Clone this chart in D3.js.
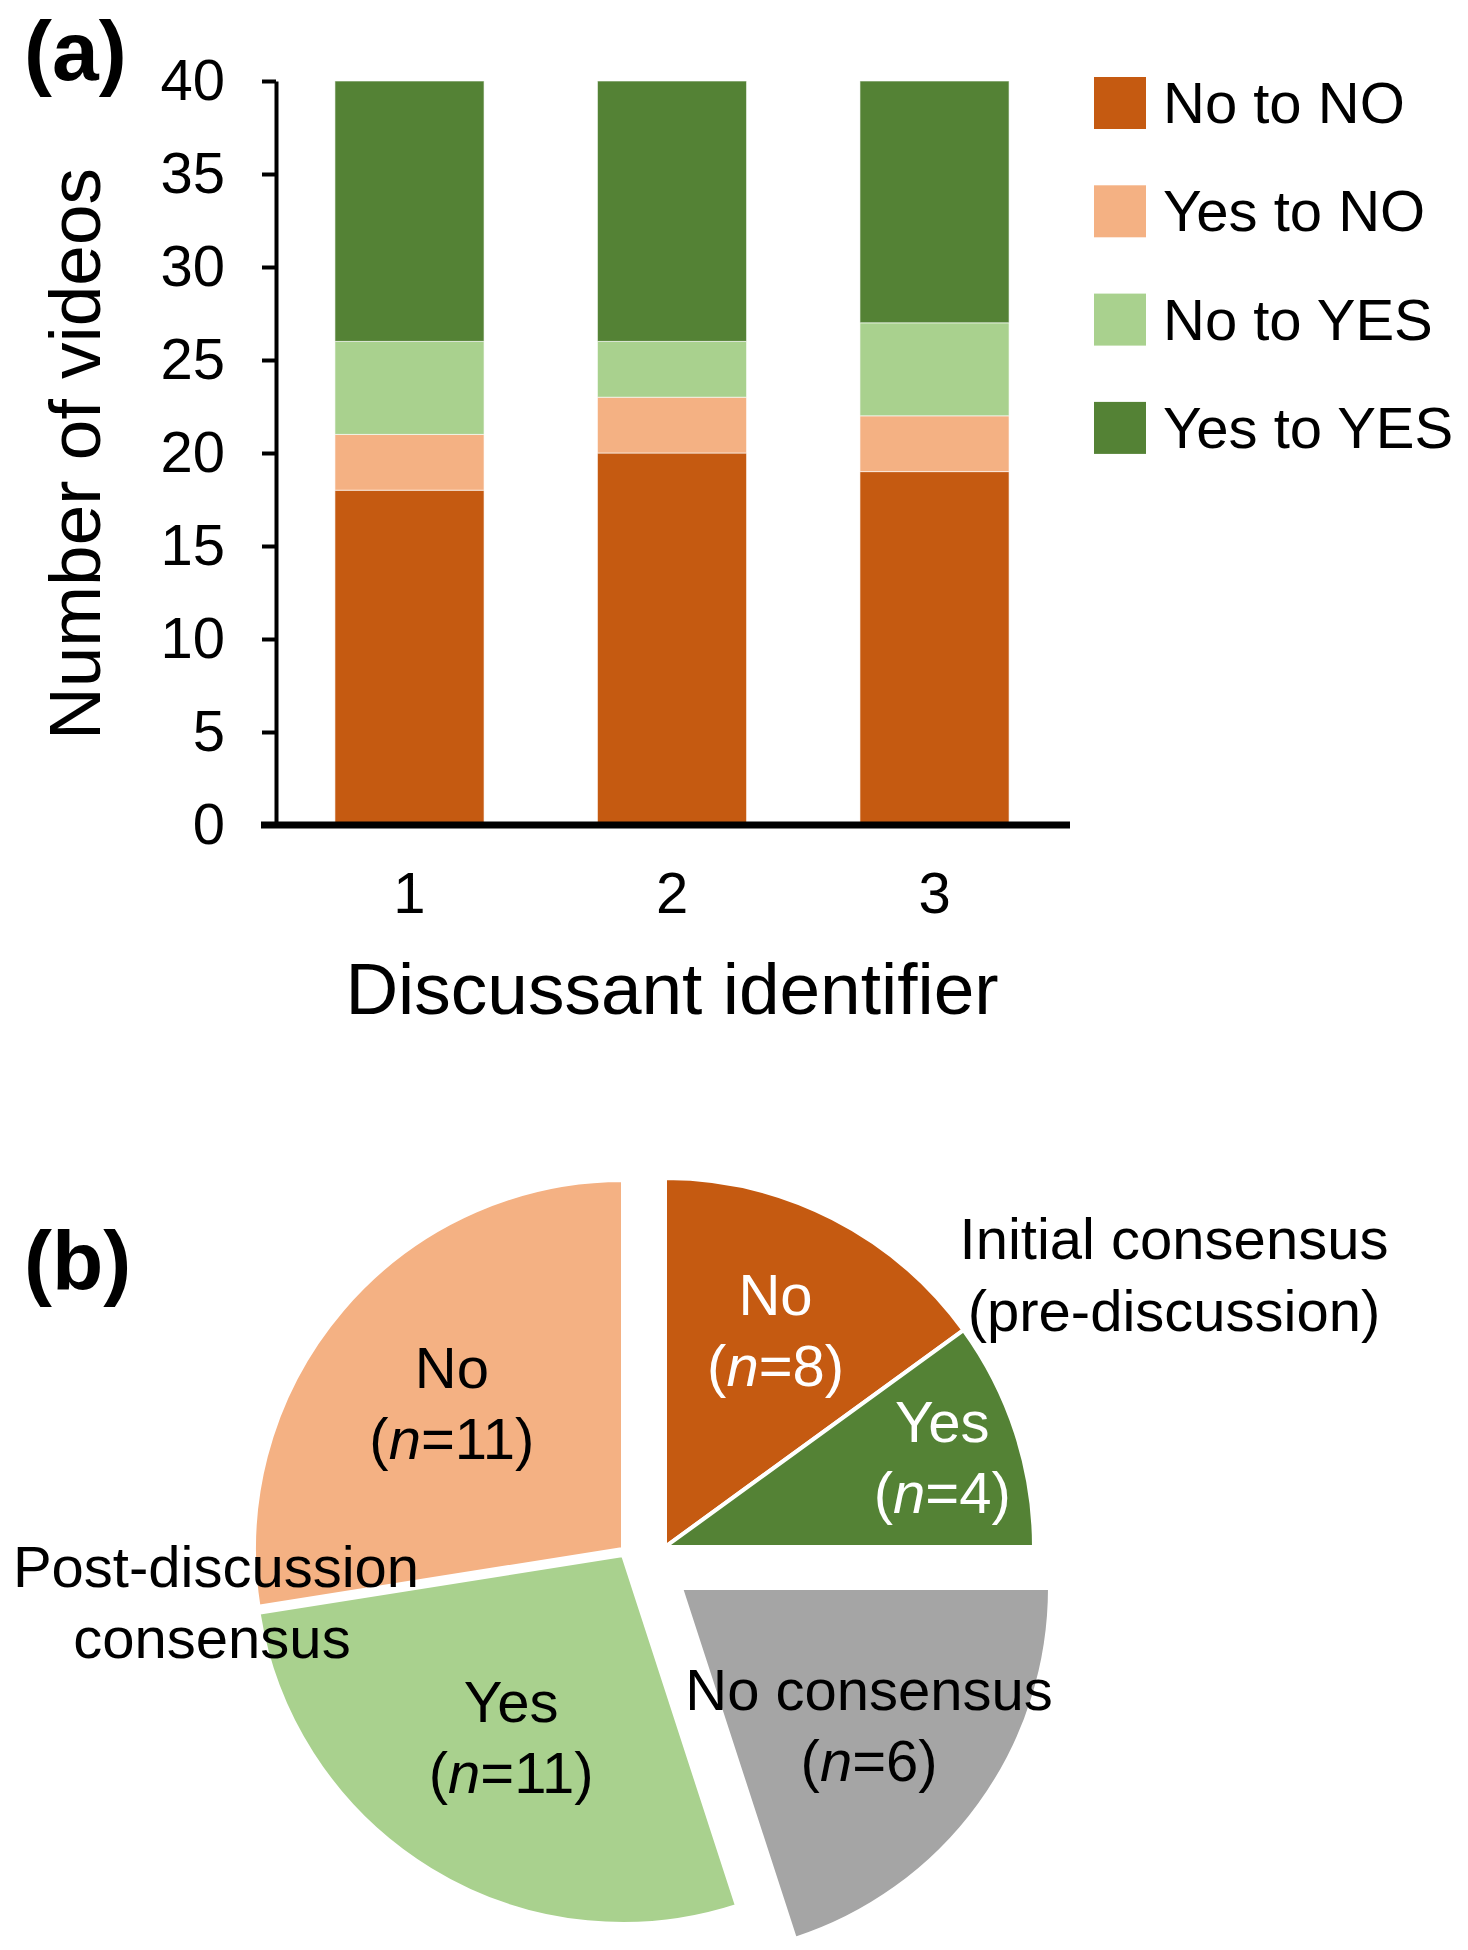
<!DOCTYPE html>
<html>
<head>
<meta charset="utf-8">
<script src="https://cdn.jsdelivr.net/npm/d3@7"></script>
<style>
  body { margin: 0; background: #fff; }
  text { font-family: "Liberation Sans", Arial, sans-serif; fill: #000; }
</style>
</head>
<body>
<svg width="1468" height="1950"></svg>
<script>
// ---- (a) stacked bars ----
var discussants = ["1", "2", "3"];
var noToNO   = [18, 20, 19];
var yesToNO  = [3, 3, 3];
var noToYES  = [5, 3, 5];
var yesToYES = [14, 14, 13];
var seriesNames  = ["No to NO", "Yes to NO", "No to YES", "Yes to YES"];
var seriesColors = ["#C55A11", "#F4B183", "#A9D18E", "#548235"];
var yTicks = [0, 5, 10, 15, 20, 25, 30, 35, 40];

// ---- (b) pie ----
var sliceNames  = ["No", "Yes", "No consensus", "Yes", "No"];
var sliceN      = [8, 4, 6, 11, 11];
// angular share as the slices are drawn in the figure (first and third are swapped vs their n)
var sliceShare  = [6, 4, 8, 11, 11];
var sliceColors = ["#C55A11", "#548235", "#A5A5A5", "#A9D18E", "#F4B183"];
var sliceTextColors = ["#fff", "#fff", "#000", "#000", "#000"];

var svg = d3.select("svg");
var FS = 58;

// table for d3.stack
var table = discussants.map(function (d, i) {
  return { cat: d, "No to NO": noToNO[i], "Yes to NO": yesToNO[i],
           "No to YES": noToYES[i], "Yes to YES": yesToYES[i] };
});
var stacked = d3.stack().keys(seriesNames)(table);

var x = d3.scaleBand().domain(discussants).range([276, 1068])
  .paddingInner(0.432).paddingOuter(0.2245);
var y = d3.scaleLinear().domain([0, 40]).range([825, 81]);

var gBars = svg.append("g");
gBars.selectAll("g")
  .data(stacked)
  .enter().append("g")
    .attr("fill", function (d, i) { return seriesColors[i]; })
  .selectAll("rect")
  .data(function (d) { return d; })
  .enter().append("rect")
    .attr("x", function (d) { return x(d.data.cat); })
    .attr("y", function (d) { return y(d[1]); })
    .attr("width", x.bandwidth())
    .attr("height", function (d) { return y(d[0]) - y(d[1]); })
    .attr("stroke", "#fff").attr("stroke-width", 1).attr("stroke-opacity", 0.6);

// y axis
var yAxis = svg.append("g")
  .attr("transform", "translate(276,0)")
  .call(d3.axisLeft(y).tickValues(yTicks).tickSize(14).tickSizeOuter(0).tickPadding(37));
yAxis.select(".domain").attr("stroke-width", 4);
yAxis.selectAll(".tick line").attr("stroke-width", 4);
yAxis.selectAll("text").attr("font-size", FS).attr("font-family", "Liberation Sans");

// x axis
var xAxis = svg.append("g")
  .attr("transform", "translate(0," + y(0) + ")")
  .call(d3.axisBottom(x).tickSize(0).tickPadding(47));
xAxis.select(".domain").remove();
xAxis.selectAll("text").attr("font-size", FS).attr("font-family", "Liberation Sans");
svg.append("line")
  .attr("x1", 261).attr("x2", 1070)
  .attr("y1", y(0)).attr("y2", y(0))
  .attr("stroke", "#000").attr("stroke-width", 7);

// axis titles
svg.append("text")
  .attr("x", 672).attr("y", 1014)
  .attr("text-anchor", "middle").attr("font-size", 73)
  .text("Discussant identifier");
svg.append("text")
  .attr("transform", "translate(100,454) rotate(-90)")
  .attr("text-anchor", "middle").attr("font-size", 73)
  .text("Number of videos");

// panel letters
svg.append("text").attr("x", 24).attr("y", 80)
  .attr("font-size", 84).attr("font-weight", "bold").text("(a)");
svg.append("text").attr("x", 24).attr("y", 1290)
  .attr("font-size", 84).attr("font-weight", "bold").text("(b)");

// legend
var legend = svg.append("g").attr("transform", "translate(1094,77)")
  .selectAll("g")
  .data(seriesNames)
  .enter().append("g")
    .attr("transform", function (d, i) { return "translate(0," + (i * 108.3) + ")"; });
legend.append("rect")
  .attr("width", 52).attr("height", 52)
  .attr("fill", function (d, i) { return seriesColors[i]; });
legend.append("text")
  .attr("x", 69).attr("y", 46)
  .attr("font-size", FS)
  .text(function (d) { return d; });

// ---- pie ----
var cx = 623, cy = 1552, R = 369;
// exploded positions of each slice, and how far out the label sits (fraction of R)
var sliceOffset = [[42, -5], [42, -5], [58, 36], [0, 3], [0, -3]];
var labelFrac = [0.66, 0.79, 0.63, 0.58, 0.61];

var arcs = d3.pie().sort(null).value(function (d) { return d; })(sliceShare);
var arc = d3.arc().innerRadius(0).outerRadius(R);

var slices = svg.append("g").selectAll("g")
  .data(arcs)
  .enter().append("g")
    .attr("transform", function (d, i) {
      return "translate(" + (cx + sliceOffset[i][0]) + "," + (cy + sliceOffset[i][1]) + ")";
    });
slices.append("path")
  .attr("d", arc)
  .attr("fill", function (d, i) { return sliceColors[i]; })
  .attr("stroke", "#fff").attr("stroke-width", 4).attr("stroke-linejoin", "miter");

var labels = slices.append("text")
  .attr("text-anchor", "middle")
  .attr("font-size", FS)
  .style("fill", function (d, i) { return sliceTextColors[i]; })
  .attr("transform", function (d, i) {
    var a = (d.startAngle + d.endAngle) / 2, rr = labelFrac[i] * R;
    return "translate(" + (rr * Math.sin(a)) + "," + (-rr * Math.cos(a)) + ")";
  });
labels.append("tspan").attr("x", 0).attr("y", -15)
  .text(function (d, i) { return sliceNames[i]; });
var l2 = labels.append("tspan").attr("x", 0).attr("y", 56);
l2.append("tspan").text("(");
l2.append("tspan").attr("font-style", "italic").text("n");
l2.append("tspan").text(function (d, i) { return "=" + sliceN[i] + ")"; });

// group annotations
svg.append("text").attr("x", 1174).attr("y", 1259)
  .attr("text-anchor", "middle").attr("font-size", FS).text("Initial consensus");
svg.append("text").attr("x", 1174).attr("y", 1331)
  .attr("text-anchor", "middle").attr("font-size", FS).text("(pre-discussion)");
svg.append("text").attr("x", 216).attr("y", 1587)
  .attr("text-anchor", "middle").attr("font-size", FS).text("Post-discussion");
svg.append("text").attr("x", 212).attr("y", 1658)
  .attr("text-anchor", "middle").attr("font-size", FS).text("consensus");
</script>
</body>
</html>
